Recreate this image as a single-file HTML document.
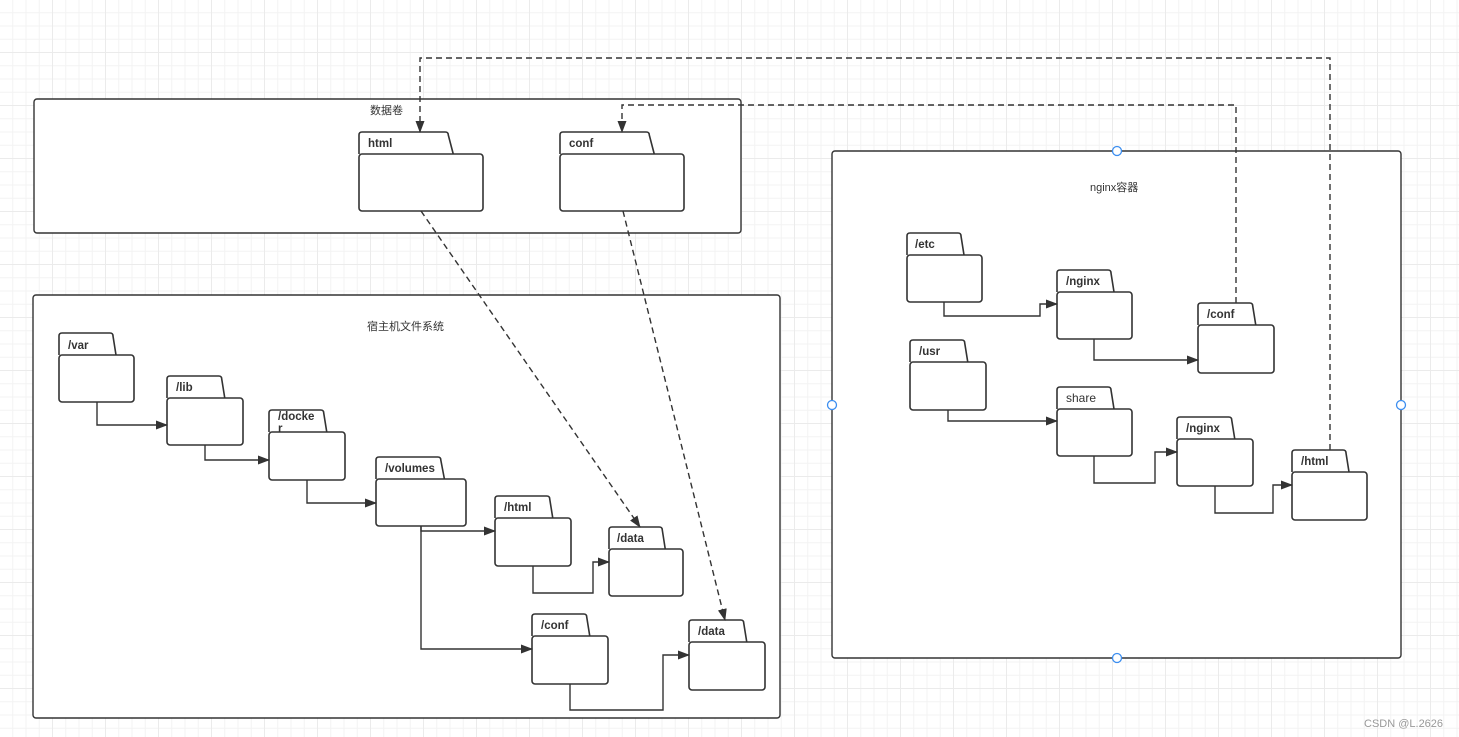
<!DOCTYPE html>
<html><head><meta charset="utf-8">
<style>
html,body{margin:0;padding:0;background:#fff;}
body{width:1459px;height:737px;overflow:hidden;
background-image:
linear-gradient(#ebebeb 1px,transparent 1px),
linear-gradient(90deg,#ebebeb 1px,transparent 1px),
linear-gradient(#f3f3f3 1px,transparent 1px),
linear-gradient(90deg,#f3f3f3 1px,transparent 1px);
background-size:53px 53px,53px 53px,13.25px 13.25px,13.25px 13.25px;
background-position:0 -1px,-1px 0,0 -1px,-1px 0;}
svg{position:absolute;left:0;top:0;}
text{font-family:"Liberation Sans","Noto Sans CJK SC",sans-serif;}
.t{font-size:11.5px;font-weight:bold;fill:#333;}
.c{font-size:11px;fill:#333;}
</style></head><body>
<svg id="s" width="1459" height="737" xmlns="http://www.w3.org/2000/svg">
<defs>
<marker id="a" markerWidth="12" markerHeight="9" refX="11" refY="4.5" orient="auto" markerUnits="userSpaceOnUse">
<path d="M0,0 L12,4.5 L0,9 z" fill="#333"/></marker>
</defs>
<rect x="34" y="99" width="707" height="134" rx="3" fill="#fff" stroke="#333" stroke-width="1.4"/>
<rect x="33" y="295" width="747" height="423" rx="3" fill="#fff" stroke="#333" stroke-width="1.4"/>
<rect x="832" y="151" width="569" height="507" rx="3" fill="#fff" stroke="#333" stroke-width="1.4"/>
<g fill="#fff" stroke="#3c8ef0" stroke-width="1.3">
<circle cx="1117" cy="151" r="4.5"/><circle cx="1117" cy="658" r="4.5"/>
<circle cx="832" cy="405" r="4.5"/><circle cx="1401" cy="405" r="4.5"/>
</g>
<g id="f" fill="#fff" stroke="#333" stroke-width="1.6"></g>
<g id="l" fill="none" stroke="#333" stroke-width="1.4"></g>
<text class="c" x="370" y="114">数据卷</text>
<text class="c" x="367" y="330">宿主机文件系统</text>
<text class="c" x="1090" y="191">nginx容器</text>
<text class="t" x="368" y="147">html</text>
<text class="t" x="569" y="147">conf</text>
<text class="t" x="68" y="349">/var</text>
<text class="t" x="176" y="391">/lib</text>
<text class="t" x="278" y="420">/docke</text>
<text class="t" x="278" y="432">r</text>
<text class="t" x="385" y="472">/volumes</text>
<text class="t" x="504" y="511">/html</text>
<text class="t" x="617" y="542">/data</text>
<text class="t" x="541" y="629">/conf</text>
<text class="t" x="698" y="635">/data</text>
<text class="t" x="915" y="248">/etc</text>
<text class="t" x="1066" y="285">/nginx</text>
<text class="t" x="1207" y="318">/conf</text>
<text class="t" x="919" y="355">/usr</text>
<text class="c" x="1066" y="402" style="font-size:12px">share</text>
<text class="t" x="1186" y="432">/nginx</text>
<text class="t" x="1301" y="465">/html</text>
<text x="1364" y="727" style="font-size:11px;fill:#999">CSDN @L.2626</text>
</svg>
<script>
var F=[[359,132,483,211],[560,132,684,211],[59,333,134,402],[167,376,243,445],[269,410,345,480],[376,457,466,526],[495,496,571,566],[609,527,683,596],[532,614,608,684],[689,620,765,690],[907,233,982,302],[1057,270,1132,339],[1198,303,1274,373],[910,340,986,410],[1057,387,1132,456],[1177,417,1253,486],[1292,450,1367,520]];
var g=document.getElementById('f'),h='';
F.forEach(function(a){var x=a[0],t=a[1],r=a[2],b=a[3],bt=t+22,tr=x+(r-x)*0.72,tr2=x+(r-x)*0.76;
h+='<path d="M'+x+','+bt+' L'+x+','+(t+3)+' Q'+x+','+t+' '+(x+3)+','+t+' L'+(tr-3)+','+t+' Q'+tr+','+t+' '+tr+','+(t+3)+' L'+tr2+','+bt+'"/>';
h+='<rect x="'+x+'" y="'+bt+'" width="'+(r-x)+'" height="'+(b-bt)+'" rx="3"/>';});
g.innerHTML=h;
var L=[
['97,402 97,425 167,425',0],['205,445 205,460 269,460',0],['307,480 307,503 376,503',0],
['421,526 421,531 495,531',0],['421,526 421,649 532,649',0],
['533,566 533,593 593,593 593,562 609,562',0],['570,684 570,710 663,710 663,655 689,655',0],
['944,302 944,316 1040,316 1040,304 1057,304',0],['1094,339 1094,360 1198,360',0],
['948,410 948,421 1057,421',0],['1094,456 1094,483 1155,483 1155,452 1177,452',0],
['1215,486 1215,513 1273,513 1273,485 1292,485',0],
['421,211 640,527',1],['623,211 725,620',1],
['1330,450 1330,58 420,58 420,132',1],['1236,303 1236,105 622,105 622,132',1]];
var s='';L.forEach(function(p){s+='<polyline points="'+p[0]+'" marker-end="url(#a)"'+(p[1]?' stroke-dasharray="6,4"':'')+'/>';});
document.getElementById('l').innerHTML=s;
</script>
</body></html>
